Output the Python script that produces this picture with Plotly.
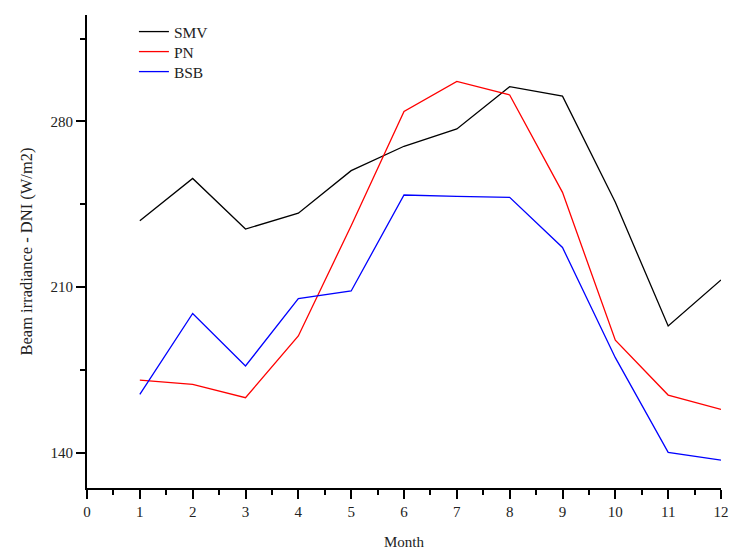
import plotly.graph_objects as go

months = list(range(1, 13))
smv = [238.0, 255.9, 234.5, 241.2, 259.2, 269.5, 276.8, 294.7, 290.7, 245.8, 193.5, 213.0]
pn = [170.6, 168.8, 163.2, 189.3, 235.9, 284.2, 296.9, 291.2, 250.0, 187.5, 164.3, 158.2]
bsb = [164.6, 198.8, 176.6, 205.1, 208.3, 248.9, 248.3, 247.9, 226.7, 180.1, 140.1, 136.8]

series = [("SMV", smv, "#000000"), ("PN", pn, "#ff0000"), ("BSB", bsb, "#0000ff")]
legend_ids = ["legend", "legend2", "legend3"]
legend_tops = [1.0, 0.9577, 0.9154]

font_family = "Liberation Serif"

fig = go.Figure()
for (name, vals, col), lid in zip(series, legend_ids):
    fig.add_trace(go.Scatter(x=months, y=vals, name=name, mode="lines",
                             line=dict(color=col, width=1.3), legend=lid))

legend_layout = {}
for lid, top in zip(legend_ids, legend_tops):
    legend_layout[lid] = dict(x=0.074, y=top, xanchor="left", yanchor="top",
                              bgcolor="rgba(0,0,0,0)",
                              font=dict(size=15.5, family=font_family), itemwidth=30)

fig.update_layout(
    width=733, height=550,
    margin=dict(l=87, r=12, t=15, b=62),
    paper_bgcolor="white", plot_bgcolor="white",
    font=dict(family=font_family, size=15, color="#222222"),
    showlegend=True,
    xaxis=dict(range=[0, 12], tick0=0, dtick=1, showgrid=False, zeroline=False,
               automargin=False,
               showline=True, linecolor="black", linewidth=2,
               ticks="outside", ticklen=9, tickwidth=2, tickcolor="black",
               minor=dict(ticks="outside", dtick=0.5, ticklen=5, tickwidth=2, tickcolor="black"),
               title=dict(text="Month", font=dict(size=15, family=font_family), standoff=18),
               tickfont=dict(size=15, family=font_family)),
    yaxis=dict(range=[125, 325], tick0=140, dtick=70, showgrid=False, zeroline=False,
               automargin=False,
               showline=True, linecolor="black", linewidth=2,
               ticks="outside", ticklen=9, tickwidth=2, tickcolor="black",
               minor=dict(ticks="outside", dtick=35, tick0=140, ticklen=5, tickwidth=2, tickcolor="black"),
               title=dict(text="Beam irradiance - DNI (W/m2)", font=dict(size=16.5, family=font_family), standoff=14),
               tickfont=dict(size=15, family=font_family)),
    **legend_layout,
)

fig.write_html("out.html", config={"displayModeBar": False},
               post_script="document.body.style.margin='0';document.body.style.padding='0';")
